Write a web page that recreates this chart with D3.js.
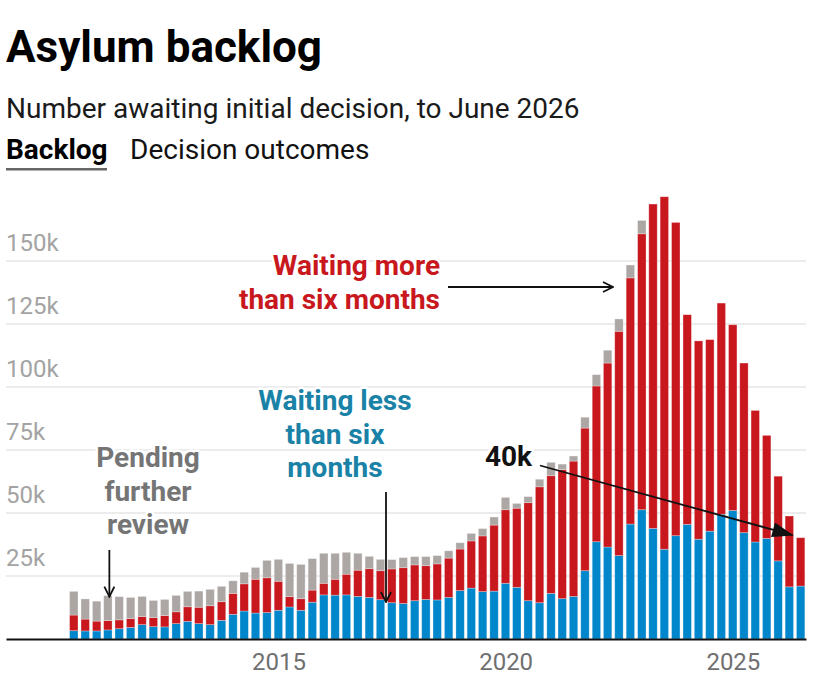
<!DOCTYPE html>
<html>
<head>
<meta charset="utf-8">
<script src="https://cdn.jsdelivr.net/npm/d3@7"></script>
<style>
	body { margin: 0; background: #fff; font-family: Roboto, sans-serif; }
	svg text { font-family: Roboto, sans-serif; }
</style>
</head>
<body>
<svg id="viz" width="836" height="696"></svg>
<script>
// Quarter ends, 2010 Q2 to 2026 Q2
let quarters = [
	"2010 Q2","2010 Q3","2010 Q4",
	"2011 Q1","2011 Q2","2011 Q3","2011 Q4",
	"2012 Q1","2012 Q2","2012 Q3","2012 Q4",
	"2013 Q1","2013 Q2","2013 Q3","2013 Q4",
	"2014 Q1","2014 Q2","2014 Q3","2014 Q4",
	"2015 Q1","2015 Q2","2015 Q3","2015 Q4",
	"2016 Q1","2016 Q2","2016 Q3","2016 Q4",
	"2017 Q1","2017 Q2","2017 Q3","2017 Q4",
	"2018 Q1","2018 Q2","2018 Q3","2018 Q4",
	"2019 Q1","2019 Q2","2019 Q3","2019 Q4",
	"2020 Q1","2020 Q2","2020 Q3","2020 Q4",
	"2021 Q1","2021 Q2","2021 Q3","2021 Q4",
	"2022 Q1","2022 Q2","2022 Q3","2022 Q4",
	"2023 Q1","2023 Q2","2023 Q3","2023 Q4",
	"2024 Q1","2024 Q2","2024 Q3","2024 Q4",
	"2025 Q1","2025 Q2","2025 Q3","2025 Q4",
	"2026 Q1","2026 Q2"];

// thousands of people
let lessThanSix = [3.3,3.2,3.2, 3.6,4.1,4.6,5.7, 4.9,4.8,6.1,7.0, 6.1,5.7,7.4,9.8,
	11.1,10.3,10.5,11.4, 12.7,11.4,14.6,17.5, 17.4,17.5,16.9,16.5, 15.6,14.4,14.1,15.2,
	15.7,15.5,16.5,19.2, 20.2,18.8,19.0,22.1, 20.5,15.2,14.4,18.1, 16.0,16.9,27.1,38.6,
	36.5,33.1,45.6,51.3, 43.9,35.6,41.0,45.5, 39.6,42.8,49.5,51.0, 42.2,38.5,39.9,31.0,
	20.7,21.0];
let moreThanSix = [6.2,4.7,3.9, 3.7,3.5,3.5,3.2, 3.6,4.5,4.7,5.8, 6.5,7.5,7.4,8.3,
	10.8,13.4,13.8,11.5, 4.1,4.6,4.8,4.6, 6.3,8.2,10.4,11.4, 11.5,13.4,14.2,14.2,
	13.4,14.3,15.6,16.5, 18.7,22.1,26.2,29.2, 31.4,38.9,46.0,46.7, 51.2,53.7,56.6,61.8,
	73.0,89.0,97.7,109.5, 128.7,139.9,124.3,83.2, 78.7,76.0,83.8,73.7, 67.3,52.2,40.9,33.6,
	28.1,19.2];
let pending = [9.4,8.0,7.9, 9.9,9.2,8.4,8.0, 6.8,6.4,6.5,6.1, 6.4,6.5,6.1,5.0,
	4.6,4.7,6.9,8.7, 13.2,13.6,12.5,11.9, 10.3,8.7,6.7,4.9, 4.5,3.7,4.0,3.3,
	3.6,3.3,2.9,2.5, 3.0,2.9,3.2,4.9, 1.9,2.4,3.0,5.3, 2.2,2.0,4.3,4.5,
	5.1,4.9,5.1,5.3, 0,0,0,0, 0,0,0,0, 0,0,0,0,
	0,0];

let yTicks = [25, 50, 75, 100, 125, 150];
let xTicks = [2015, 2020, 2025];

let colors = { less: "#0086cb", more: "#c8181e", pending: "#aca7a4" };

function quarterEnd(q){
	let year = Number(q.slice(0, 4));
	let n = Number(q.slice(6));
	return new Date(year, n * 3, 0);
}

function app(){
	let svg = d3.select("#viz");

	// header
	svg.append("text").attr("x", 6).attr("y", 62)
		.attr("font-size", 44).attr("font-weight", 700).attr("fill", "#000")
		.text("Asylum backlog");
	svg.append("text").attr("x", 6).attr("y", 117.5)
		.attr("font-size", 28).attr("fill", "#1a1a1a")
		.text("Number awaiting initial decision, to June 2026");
	svg.append("text").attr("x", 6).attr("y", 159)
		.attr("font-size", 28).attr("font-weight", 700).attr("fill", "#000")
		.text("Backlog");
	svg.append("rect").attr("x", 6).attr("y", 168).attr("width", 101).attr("height", 2.5)
		.attr("fill", "#666");
	svg.append("text").attr("x", 130).attr("y", 159)
		.attr("font-size", 28).attr("fill", "#111")
		.text("Decision outcomes");

	let x = d3.scaleTime()
		.domain([new Date(2009, 0, 1), new Date(2026, 7, 12)])
		.range([6, 806]);
	let y = d3.scaleLinear().domain([0, 150]).range([639, 261]);

	// gridlines + y labels
	let grid = svg.append("g");
	grid.selectAll("line").data(yTicks).enter().append("line")
		.attr("x1", 6).attr("x2", 806)
		.attr("y1", d => y(d)).attr("y2", d => y(d))
		.attr("stroke", "#e6e6e6").attr("stroke-width", 1.5);
	grid.selectAll("text").data(yTicks).enter().append("text")
		.attr("x", 6).attr("y", d => y(d) - 10)
		.attr("font-size", 24).attr("fill", "#a3a3a3")
		.text(d => d + "k");

	// stacked bars
	let rows = quarters.map((q, i) => ({
		date: quarterEnd(q), less: lessThanSix[i], more: moreThanSix[i], pending: pending[i]
	}));
	let stack = d3.stack().keys(["less", "more", "pending"])(rows);
	let barW = 8.4;

	svg.append("g").selectAll("g").data(stack).enter().append("g")
		.attr("fill", d => colors[d.key])
		.selectAll("rect").data(d => d.filter(s => s[1] - s[0] > 0)).enter().append("rect")
		.attr("x", d => x(d.data.date) - barW / 2)
		.attr("width", barW)
		.attr("y", d => y(d[1]))
		.attr("height", d => y(d[0]) - y(d[1]))
		.attr("stroke", "#fff").attr("stroke-opacity", 0.35).attr("stroke-width", 0.8);

	// x axis
	let xAxis = d3.axisBottom(x)
		.tickValues(xTicks.map(yr => new Date(yr, 0, 1)))
		.tickFormat(d3.timeFormat("%Y"))
		.tickSize(0).tickPadding(14);
	let ax = svg.append("g").attr("transform", "translate(0," + y(0) + ")").call(xAxis);
	ax.select(".domain").attr("stroke", "#111").attr("stroke-width", 2.2);
	ax.selectAll("text").attr("font-size", 24).attr("fill", "#707070")
		.attr("font-family", "Roboto, sans-serif");

	// arrows
	let defs = svg.append("defs");
	defs.append("marker").attr("id", "chev").attr("viewBox", "0 0 12 12")
		.attr("refX", 11).attr("refY", 6).attr("markerWidth", 12).attr("markerHeight", 12)
		.attr("markerUnits", "userSpaceOnUse").attr("orient", "auto")
		.append("path").attr("d", "M1,1 L11,6 L1,11").attr("fill", "none")
		.attr("stroke", "#111").attr("stroke-width", 1.8);
	defs.append("marker").attr("id", "tri").attr("viewBox", "0 0 20 14")
		.attr("refX", 19).attr("refY", 7).attr("markerWidth", 22).attr("markerHeight", 15)
		.attr("markerUnits", "userSpaceOnUse").attr("orient", "auto")
		.append("path").attr("d", "M0,0 L20,7 L0,14 Z").attr("fill", "#111");

	let last = rows[rows.length - 1];
	let arrows = [
		{ x1: x(rows[3].date) + 1.5, y1: 550, x2: x(rows[3].date) + 1.5, y2: y(17.2) + 1, m: "chev" },
		{ x1: 386, y1: 492, x2: 386, y2: 602, m: "chev" },
		{ x1: 448, y1: 287, x2: 613, y2: 287, m: "chev" },
		{ x1: 540, y1: 465.5, x2: x(last.date) - 8, y2: y(last.less + last.more) - 2.5, m: "tri" }
	];
	svg.append("g").selectAll("line").data(arrows).enter().append("line")
		.attr("x1", d => d.x1).attr("y1", d => d.y1)
		.attr("x2", d => d.x2).attr("y2", d => d.y2)
		.attr("stroke", "#111").attr("stroke-width", 1.8)
		.attr("marker-end", d => "url(#" + d.m + ")");

	// annotations
	let notes = [
		{ lines: ["Waiting more", "than six months"], x: 440, y: 275, anchor: "end", color: "#c8181e" },
		{ lines: ["Waiting less", "than six", "months"], x: 335, y: 410, anchor: "middle", color: "#1a82a6" },
		{ lines: ["Pending", "further", "review"], x: 148, y: 467, anchor: "middle", color: "#757575" },
		{ lines: ["40k"], x: 532, y: 466, anchor: "end", color: "#111" }
	];
	let lab = svg.append("g").selectAll("text").data(notes).enter().append("text")
		.attr("x", d => d.x).attr("y", d => d.y)
		.attr("text-anchor", d => d.anchor)
		.attr("font-size", 28).attr("font-weight", 700)
		.attr("fill", d => d.color)
		.attr("stroke", "#fff").attr("stroke-width", 5).attr("stroke-linejoin", "round")
		.attr("paint-order", "stroke");
	lab.selectAll("tspan").data(d => d.lines.map(l => ({ l: l, x: d.x }))).enter().append("tspan")
		.attr("x", d => d.x)
		.attr("dy", (d, i) => i === 0 ? 0 : 33.5)
		.text(d => d.l);
}

app();
</script>
</body>
</html>
